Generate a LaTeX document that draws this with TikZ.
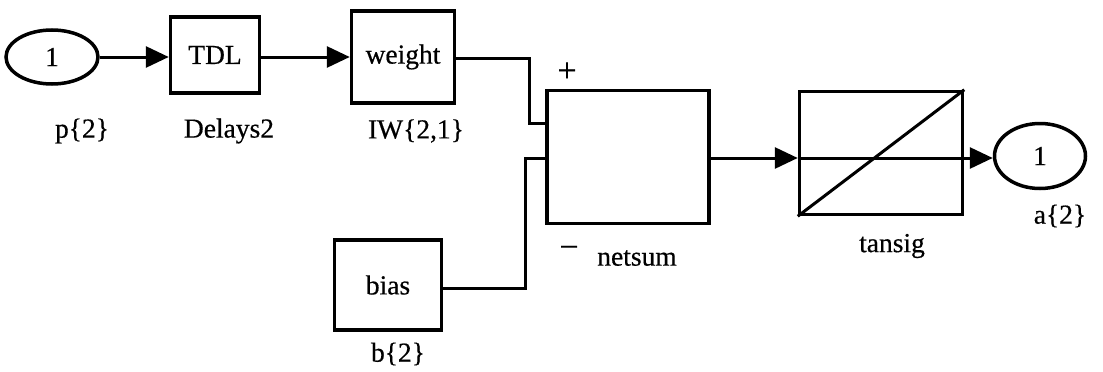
\documentclass[tikz,border=0pt]{standalone}
\usepackage{fontspec}
\setmainfont{Liberation Serif}[FakeBold=0.5]
\usetikzlibrary{shapes.geometric,arrows.meta}
\begin{document}
\begin{tikzpicture}[x=1pt,y=-1pt,
  blk/.style={draw,line width=3.5pt,rectangle,inner sep=0pt},
  port/.style={draw,line width=3.5pt,ellipse,inner sep=0pt},
  lbl/.style={inner sep=0pt},
  sgn/.style={inner sep=0pt,font=\fontsize{34}{36}\selectfont},
  wire/.style={line width=3pt},
  arr/.style={line width=3pt,-{Triangle[length=23pt,width=21pt]}},
  every node/.style={font=\fontsize{27.5}{30}\selectfont}]
\useasboundingbox (0,0) rectangle (1103,372);
\node[port,minimum width=92pt,minimum height=54pt] (in) at (52,57) {1};
\node[blk,minimum width=89pt,minimum height=76pt] (tdl) at (215,55) {TDL};
\node[blk,minimum width=103pt,minimum height=92pt] (weight) at (403,57) {weight};
\node[blk,minimum width=107pt,minimum height=90pt] (bias) at (388,285) {bias};
\node[blk,minimum width=162pt,minimum height=133pt] (netsum) at (628,157) {};
\node[blk,minimum width=163pt,minimum height=123pt] (tansig) at (881,153) {};
\node[port,minimum width=91pt,minimum height=65pt] (out) at (1040,156) {1};

\node[lbl] (lp) at (82,131) {p\{2\}};
\node[lbl] (ld) at (229,131) {Delays2};
\node[lbl] (liw) at (416,131) {IW\{2,1\}};
\node[lbl] (lb) at (398,354) {b\{2\}};
\node[lbl] (lns) at (637,258) {netsum};
\node[lbl] (lts) at (892,246) {tansig};
\node[lbl] (la) at (1060,216) {a\{2\}};
\node[sgn] (lplus) at (567,72) {+};
\node[sgn] (lminus) at (569,252) {\textminus};

\draw[line width=3pt] (tansig.south west) -- (tansig.north east);

\draw[arr] (in.east) -- (in.east -| tdl.west);
\draw[arr] (tdl.east |- in.east) -- (in.east -| weight.west);
\coordinate (w1) at (529,58);
\coordinate (b1) at (525,158);
\draw[wire] (weight.east |- w1) -- (w1) |- (netsum.west |- 0,123);
\draw[wire] (bias.east |- 0,288) -| (b1) -- (netsum.west |- b1);
\draw[arr] (netsum.east |- b1) -- (tansig.west |- b1);
\draw[arr] (tansig.west |- b1) -- (out.west |- b1);
\end{tikzpicture}
\end{document}
